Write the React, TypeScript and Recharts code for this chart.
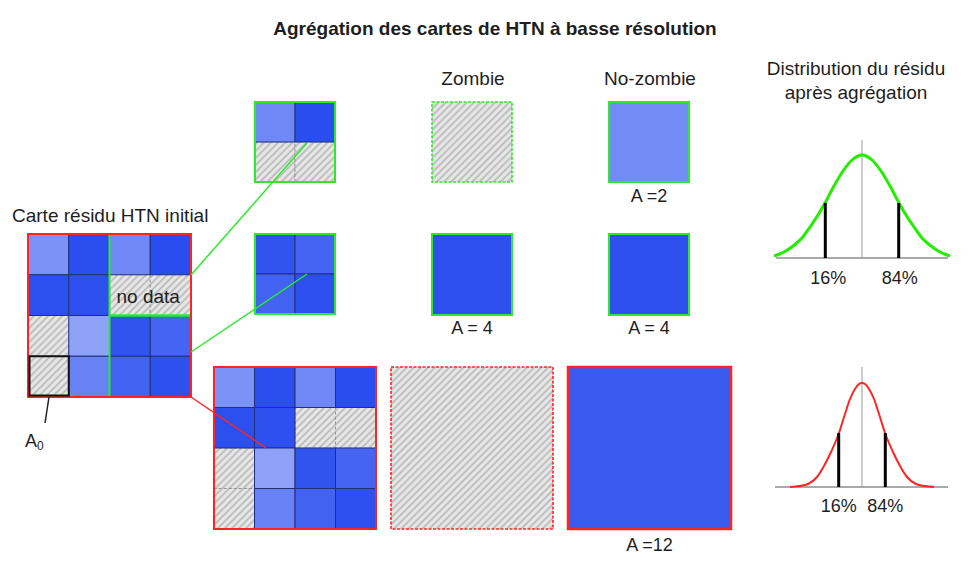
import React from "react";
import { ComposedChart, XAxis, YAxis, ReferenceArea, ReferenceLine, Line } from "recharts";

const W = 977;
const H = 570;

// residual intensity of each cell of the initial map (0 = weak, 1 = strong), null = no data
const residualRow0 = [0.22, 0.94, 0.33, 0.95];
const residualRow1 = [0.93, 0.92, null, null];
const residualRow2 = [null, 0.05, 0.88, 0.71];
const residualRow3 = [null, 0.4, 0.73, 0.92];
const residualMap: (number | null)[][] = [residualRow0, residualRow1, residualRow2, residualRow3];

// aggregated cells: top = 2x2 with no data, middle = full 2x2, bottom = whole 4x4
const zombieValues: (number | null)[] = [null, 0.92, null];
const noZombieValues = [0.3, 0.92, 0.8];
const zombieCounts: (number | null)[] = [null, 4, null];
const noZombieCounts = [2, 4, 12];

// residual distributions (offset from centre, density height)
const pctLabels = ["16%", "84%"];
const topCurveOffsets = [-88, -78, -69, -60, -52, -44, -37, -28, -19, -10, -4, 0, 4, 10, 19, 28, 37, 44, 52, 60, 69, 78, 88];
const topCurveHeights = [2, 6, 12, 20, 31, 43, 55, 72, 87, 98, 102, 103, 102, 98, 87, 72, 55, 43, 31, 20, 12, 6, 2];
const topMarkerOffsets = [-36.7, 36.7];
const topMarkerHeights = [55, 55];
const bottomCurveOffsets = [-72, -63, -54, -45, -38, -31, -23, -17, -12, -7, -3, 0, 3, 7, 12, 17, 23, 31, 38, 45, 54, 63, 72];
const bottomCurveHeights = [0, 1, 3, 10, 21, 35, 54, 73, 88, 98, 103, 104, 103, 98, 88, 73, 54, 35, 21, 10, 3, 1, 0];
const bottomMarkerOffsets = [-23.3, 23.3];
const bottomMarkerHeights = [54, 54];

const FONT = "'Liberation Sans', Arial, Helvetica, sans-serif";
const GREEN = "#2bea2b";
const RED = "#ff2424";
const LIGHT = [148, 168, 248];
const DARK = [36, 72, 238];

const blue = (t: number) =>
  `rgb(${LIGHT.map((c, i) => Math.round(c + (DARK[i] - c) * t)).join(",")})`;

function grid(values: (number | null)[][], x0: number, y0: number, s: number, key: string) {
  const cells: { v: number | null; r: number; c: number }[] = [];
  values.forEach((row, r) => row.forEach((v, c) => cells.push({ v, r, c })));
  // hatched cells first so the dark cell edges stay on top
  cells.sort((a, b) => (a.v === null ? 0 : 1) - (b.v === null ? 0 : 1));
  return cells.map(({ v, r, c }) => (
    <ReferenceArea
      key={`${key}-${r}-${c}`}
      x1={x0 + c * s}
      x2={x0 + (c + 1) * s}
      y1={y0 + r * s}
      y2={y0 + (r + 1) * s}
      fill={v === null ? "url(#hatch)" : blue(v)}
      fillOpacity={1}
      stroke={v === null ? "#8c8c8c" : "#22307a"}
      strokeWidth={v === null ? 0.8 : 1}
      strokeDasharray={v === null ? "3 2" : undefined}
      ifOverflow="visible"
    />
  ));
}

function frame(x1: number, y1: number, x2: number, y2: number, stroke: string, w: number, key: string, dash?: string) {
  return (
    <ReferenceArea
      key={key}
      x1={x1}
      x2={x2}
      y1={y1}
      y2={y2}
      fill="none"
      stroke={stroke}
      strokeWidth={w}
      strokeDasharray={dash}
      ifOverflow="visible"
    />
  );
}

function seg(x1: number, y1: number, x2: number, y2: number, stroke: string, w: number, key: string) {
  return (
    <ReferenceLine
      key={key}
      segment={[{ x: x1, y: y1 }, { x: x2, y: y2 }]}
      stroke={stroke}
      strokeWidth={w}
      ifOverflow="visible"
    />
  );
}

// layout
const MAP = { x: 28, y: 234, s: 40.75 };
const SMALL_TOP = { x: 255, y: 102, s: 40 };
const SMALL_MID = { x: 255, y: 234, s: 40 };
const BIG = { x: 214, y: 367, s: 40.5 };
const ZOMBIE_BOXES = [
  { x1: 432, x2: 512, y1: 102, y2: 182 },
  { x1: 432, x2: 512, y1: 234, y2: 315 },
  { x1: 391, x2: 553, y1: 367, y2: 529 },
];
const NOZOMBIE_BOXES = [
  { x1: 609, x2: 689, y1: 102, y2: 182 },
  { x1: 609, x2: 689, y1: 234, y2: 315 },
  { x1: 568, x2: 731, y1: 367, y2: 529 },
];
const BOX_COLORS = [GREEN, GREEN, RED];
const COUNT_BASELINES = [202, 334, 551];
const TOP_DIST = { cx: 862, base: 258, x1: 776, x2: 948, axisTop: 140, labelY: 284 };
const BOT_DIST = { cx: 862, base: 487, x1: 775, x2: 948, axisTop: 367, labelY: 512 };

const txt = (x: number, y: number, s: React.ReactNode, anchor = "middle", weight = "normal", size = 19) => (
  <text x={x} y={y} textAnchor={anchor} fontFamily={FONT} fontSize={size} fontWeight={weight} fill="#1e1e1e">
    {s}
  </text>
);

export default function App() {
  const topCurve = topCurveOffsets.map((o, i) => ({ x: TOP_DIST.cx + o, y: TOP_DIST.base - topCurveHeights[i] }));
  const botCurve = bottomCurveOffsets.map((o, i) => ({ x: BOT_DIST.cx + o, y: BOT_DIST.base - bottomCurveHeights[i] }));
  const s = MAP.s;

  return (
    <div style={{ position: "absolute", left: 0, top: 0, width: W, height: H, background: "#fff" }}>
      <ComposedChart width={W} height={H} margin={{ top: 0, right: 0, bottom: 0, left: 0 }}>
        <defs>
          <pattern id="hatch" width="5" height="5" patternUnits="userSpaceOnUse" patternTransform="rotate(45)">
            <rect width="5" height="5" fill="#e8e8e8" />
            <line x1="2.5" y1="0" x2="2.5" y2="5" stroke="#b6b6b6" strokeWidth="1.7" />
          </pattern>
        </defs>
        <XAxis type="number" dataKey="x" domain={[0, W]} hide allowDataOverflow />
        <YAxis type="number" dataKey="y" domain={[0, H]} reversed hide allowDataOverflow />

        {/* initial residual map */}
        {grid(residualMap, MAP.x, MAP.y, s, "map")}
        {frame(MAP.x + 2 * s, MAP.y, MAP.x + 4 * s, MAP.y + 2 * s, GREEN, 2, "g1")}
        {frame(MAP.x + 2 * s, MAP.y + 2 * s, MAP.x + 4 * s, MAP.y + 4 * s, GREEN, 2, "g2")}
        {frame(MAP.x, MAP.y, MAP.x + 4 * s, MAP.y + 4 * s, RED, 2, "r0")}
        {frame(MAP.x + 1.5, MAP.y + 3 * s, MAP.x + s, MAP.y + 4 * s - 1.5, "#111", 2, "a0")}
        <ReferenceArea
          x1={MAP.x + 2 * s}
          x2={MAP.x + 4 * s}
          y1={MAP.y + s}
          y2={MAP.y + 2 * s}
          fill="none"
          stroke="none"
          ifOverflow="visible"
          label={{ value: "no data", position: "center", fill: "#1e1e1e", fontSize: 19, fontFamily: FONT, dx: -2, dy: 1 }}
        />

        {/* sub-blocks */}
        {grid(residualMap.slice(0, 2).map((r) => r.slice(2)), SMALL_TOP.x, SMALL_TOP.y, SMALL_TOP.s, "st")}
        {frame(SMALL_TOP.x, SMALL_TOP.y, SMALL_TOP.x + 2 * SMALL_TOP.s, SMALL_TOP.y + 2 * SMALL_TOP.s, GREEN, 2, "stf")}
        {grid(residualMap.slice(2).map((r) => r.slice(2)), SMALL_MID.x, SMALL_MID.y, SMALL_MID.s, "sm")}
        {frame(SMALL_MID.x, SMALL_MID.y, SMALL_MID.x + 2 * SMALL_MID.s, SMALL_MID.y + 2 * SMALL_MID.s, GREEN, 2, "smf")}
        {grid(residualMap, BIG.x, BIG.y, BIG.s, "big")}
        {frame(BIG.x, BIG.y, BIG.x + 4 * BIG.s, BIG.y + 4 * BIG.s, RED, 2, "bigf")}

        {/* aggregated cells */}
        {ZOMBIE_BOXES.map((b, i) => (
          <ReferenceArea
            key={`z${i}`}
            {...b}
            fill={zombieValues[i] === null ? "url(#hatch)" : blue(zombieValues[i] as number)}
            fillOpacity={1}
            stroke={BOX_COLORS[i]}
            strokeWidth={zombieValues[i] === null ? 1.6 : 2}
            strokeDasharray={zombieValues[i] === null ? "3 1.5" : undefined}
            ifOverflow="visible"
          />
        ))}
        {NOZOMBIE_BOXES.map((b, i) => (
          <ReferenceArea
            key={`n${i}`}
            {...b}
            fill={blue(noZombieValues[i])}
            fillOpacity={1}
            stroke={BOX_COLORS[i]}
            strokeWidth={i === 2 ? 2.5 : 2}
            ifOverflow="visible"
          />
        ))}

        {/* connectors */}
        {seg(191, 275, 307, 143, GREEN, 1.5, "c1")}
        {seg(191, 352, 307, 274, GREEN, 1.5, "c2")}
        {seg(191, 397, 266, 448, RED, 1.5, "c3")}
        {seg(49, 397, 45, 423, "#222", 1.5, "c4")}

        {/* distributions */}
        {seg(TOP_DIST.x1, TOP_DIST.base, TOP_DIST.x2, TOP_DIST.base, "#555", 1, "tb")}
        {seg(TOP_DIST.cx, TOP_DIST.axisTop, TOP_DIST.cx, TOP_DIST.base, "#9a9a9a", 1, "tc")}
        {seg(BOT_DIST.x1, BOT_DIST.base, BOT_DIST.x2, BOT_DIST.base, "#555", 1, "bb")}
        {seg(BOT_DIST.cx, BOT_DIST.axisTop, BOT_DIST.cx, BOT_DIST.base, "#9a9a9a", 1, "bc")}
        <Line data={topCurve} dataKey="y" type="monotone" stroke="#22ee00" strokeWidth={3} dot={false} activeDot={false} isAnimationActive={false} />
        <Line data={botCurve} dataKey="y" type="monotone" stroke={RED} strokeWidth={2} dot={false} activeDot={false} isAnimationActive={false} />
        {topMarkerOffsets.map((o, i) =>
          seg(TOP_DIST.cx + o, TOP_DIST.base, TOP_DIST.cx + o, TOP_DIST.base - topMarkerHeights[i], "#000", 3, `tm${i}`)
        )}
        {bottomMarkerOffsets.map((o, i) =>
          seg(BOT_DIST.cx + o, BOT_DIST.base, BOT_DIST.cx + o, BOT_DIST.base - bottomMarkerHeights[i], "#000", 3, `bm${i}`)
        )}

        {/* texts */}
        {txt(495, 35, "Agrégation des cartes de HTN à basse résolution", "middle", "bold")}
        {txt(12, 222, "Carte résidu HTN initial", "start")}
        {txt(25, 447, <>A<tspan fontSize={12} dy={3}>0</tspan></>, "start", "normal", 18)}
        {txt(473, 85, "Zombie")}
        {txt(650, 85, "No-zombie")}
        {txt(856, 75, "Distribution du résidu")}
        {txt(856, 99, "après agrégation")}
        {zombieCounts.map((c, i) =>
          c === null ? null : <React.Fragment key={`zc${i}`}>{txt((ZOMBIE_BOXES[i].x1 + ZOMBIE_BOXES[i].x2) / 2, COUNT_BASELINES[i], `A = ${c}`, "middle", "normal", 18)}</React.Fragment>
        )}
        {noZombieCounts.map((c, i) => (
          <React.Fragment key={`nc${i}`}>
            {txt((NOZOMBIE_BOXES[i].x1 + NOZOMBIE_BOXES[i].x2) / 2, COUNT_BASELINES[i], i === 1 ? `A = ${c}` : `A =${c}`, "middle", "normal", 18)}
          </React.Fragment>
        ))}
        {topMarkerOffsets.map((o, i) => (
          <React.Fragment key={`tl${i}`}>{txt(TOP_DIST.cx + o + (i === 0 ? 3 : 1), TOP_DIST.labelY, pctLabels[i], "middle", "normal", 18)}</React.Fragment>
        ))}
        {bottomMarkerOffsets.map((o, i) => (
          <React.Fragment key={`bl${i}`}>{txt(BOT_DIST.cx + o, BOT_DIST.labelY, pctLabels[i], "middle", "normal", 18)}</React.Fragment>
        ))}
      </ComposedChart>
    </div>
  );
}
